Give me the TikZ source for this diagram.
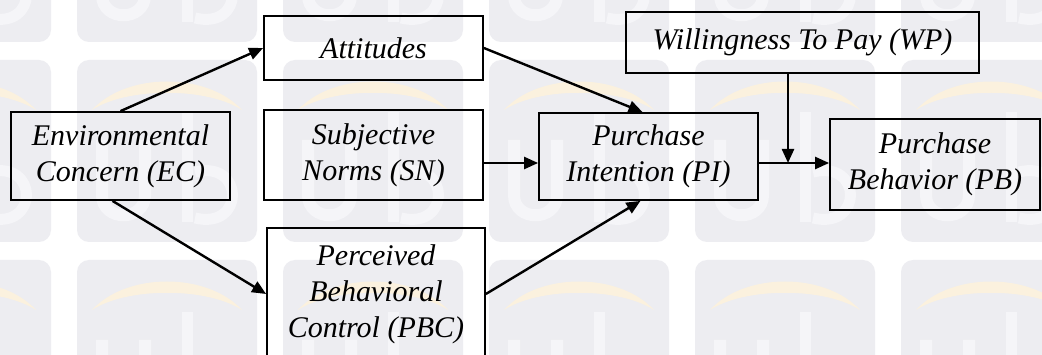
\documentclass[tikz,border=0pt]{standalone}
\usepackage{fontspec}
\setmainfont{Liberation Serif}[ItalicFont={Liberation Serif Italic}]
\newfontfamily\boxfont{Liberation Serif Italic}
\usetikzlibrary{arrows.meta,calc}

\definecolor{tilegray}{RGB}{237,237,241}
\definecolor{tilearc}{RGB}{251,241,222}
\definecolor{tileletter}{RGB}{245,245,248}

\tikzset{
  box/.style={draw=black, line width=1.8pt, align=center, inner sep=0pt,
    font=\boxfont\fontsize{30}{36}\selectfont},
  link/.style={line width=2.4pt, -{Triangle[length=14pt,width=12pt]}},
  uiitile/.pic={
    \fill[tilegray, rounded corners=12pt] (0,0) rectangle (180,182);
    \fill[tilearc] (15,50) .. controls (50,12) and (130,12) .. (165,50)
                           .. controls (130,27) and (50,27) .. cycle;
    \draw[tileletter, line width=12pt] (25,80) -- (25,135)
         .. controls (25,162) and (68,162) .. (68,135) -- (68,80);
    \draw[tileletter, line width=11pt] (110,52) -- (110,162);
    \draw[tileletter, line width=11pt] (118,112) .. controls (168,100) and (168,170) .. (118,158);
  }
}

\begin{document}
\begin{tikzpicture}[x=1pt, y=-1pt]
  \useasboundingbox (0,0) rectangle (1042,355);
  \clip (0,0) rectangle (1042,355);
  \fill[white] (0,0) rectangle (1042,355);

  % background tiles
  \foreach \cx in {-129,77,283,489,695,901}
    \foreach \cy in {-140,60,260}
      \pic at (\cx,\cy) {uiitile};

  % constructs
  \node[box, minimum width=219pt, minimum height=88pt]  (ec)  at (120.5,156) {Environmental\\Concern (EC)};
  \node[box, minimum width=219pt, minimum height=64pt]  (att) at (373.5,48)  {Attitudes};
  \node[box, minimum width=219pt, minimum height=90pt]  (sn)  at (373.5,155) {Subjective\\Norms (SN)};
  \node[box, minimum width=218pt, minimum height=132pt] (pbc) at (376,294)   {Perceived\\Behavioral\\Control (PBC)};
  \node[box, minimum width=219pt, minimum height=87pt]  (pi)  at (648.5,156.5) {Purchase\\Intention (PI)};
  \node[box, minimum width=353pt, minimum height=61pt]  (wp)  at (802.5,42.5) {Willingness To Pay (WP)};
  \node[box, minimum width=210pt, minimum height=91pt]  (pb)  at (935,164.5) {Purchase\\Behavior (PB)};

  \coordinate (lvl) at (0,163);
  \coordinate (join) at (788,163);

  % paths
  \draw[link] (ec.north) -- (att.west);
  \draw[link] ([xshift=-8pt]ec.south) -- (pbc.west);
  \draw[link] (att.east) -- ([xshift=-6pt]pi.north);
  \draw[link] (sn.east |- lvl) -- (pi.west |- lvl);
  \draw[link] (pbc.east) -- ([xshift=-8pt]pi.south);
  \draw[link] (pi.east |- lvl) -- (pb.west |- lvl);
  \draw[link] (wp.south -| join) -- (join);
\end{tikzpicture}
\end{document}
